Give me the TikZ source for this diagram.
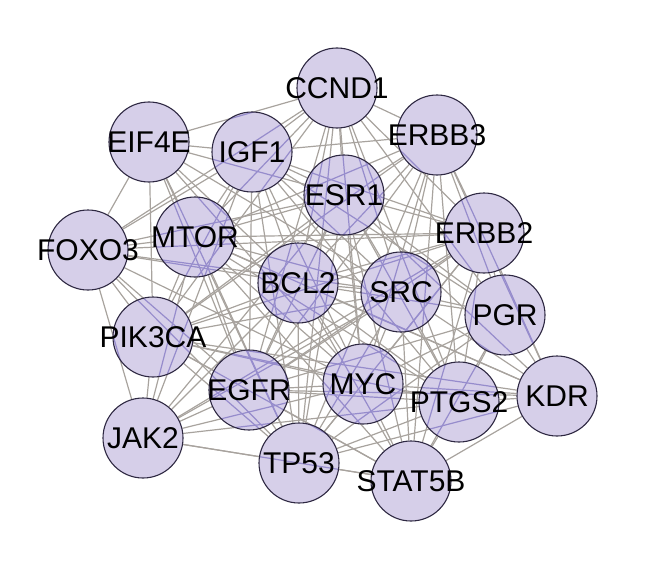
\documentclass[tikz,border=0pt]{standalone}
\usepackage{fontspec}
\setmainfont{Liberation Sans}
\pgfdeclarelayer{background}
\pgfdeclarelayer{mid}
\pgfsetlayers{background,mid,main}
\definecolor{nodefillc}{RGB}{214,207,233}
\definecolor{nodeborderc}{RGB}{46,40,66}
\definecolor{edgec}{RGB}{168,163,158}
\definecolor{inedgec}{RGB}{150,140,204}
\tikzset{
  gene/.style={circle, minimum size=80pt, inner sep=0pt, draw=nodeborderc, line width=1.1pt,
    font=\fontsize{30}{30}\selectfont, text=black},
  edge/.style={draw=edgec, line width=1.2pt},
  inedge/.style={draw=inedgec, line width=1.2pt},
}
\newcommand\myedges{TP53/EGFR, TP53/MYC, TP53/ESR1, TP53/SRC, TP53/BCL2, TP53/MTOR, TP53/PIK3CA, TP53/IGF1, TP53/CCND1, TP53/ERBB2, TP53/PTGS2,
EGFR/MYC, EGFR/ESR1, EGFR/SRC, EGFR/BCL2, EGFR/MTOR, EGFR/PIK3CA, EGFR/IGF1, EGFR/CCND1, EGFR/ERBB2, EGFR/PTGS2,
MYC/ESR1, MYC/SRC, MYC/BCL2, MYC/MTOR, MYC/PIK3CA, MYC/IGF1, MYC/CCND1, MYC/ERBB2, MYC/PTGS2,
ESR1/SRC, ESR1/BCL2, ESR1/MTOR, ESR1/PIK3CA, ESR1/IGF1, ESR1/CCND1, ESR1/ERBB2, ESR1/PTGS2,
SRC/BCL2, SRC/MTOR, SRC/PIK3CA, SRC/IGF1, SRC/CCND1, SRC/ERBB2, SRC/PTGS2,
BCL2/MTOR, BCL2/PIK3CA, BCL2/IGF1, BCL2/CCND1, BCL2/ERBB2, BCL2/PTGS2,
MTOR/PIK3CA, MTOR/IGF1, MTOR/CCND1, MTOR/ERBB2, MTOR/PTGS2,
PIK3CA/IGF1, PIK3CA/CCND1, PIK3CA/ERBB2, PIK3CA/PTGS2,
IGF1/CCND1, IGF1/ERBB2, IGF1/PTGS2,
CCND1/ERBB2, CCND1/PTGS2, ERBB2/PTGS2,
FOXO3/EIF4E, FOXO3/MTOR, FOXO3/IGF1, FOXO3/ESR1, FOXO3/CCND1, FOXO3/BCL2, FOXO3/SRC, FOXO3/PIK3CA, FOXO3/EGFR, FOXO3/MYC, FOXO3/TP53, FOXO3/JAK2, FOXO3/ERBB2,
JAK2/PIK3CA, JAK2/MTOR, JAK2/EGFR, JAK2/BCL2, JAK2/SRC, JAK2/ESR1, JAK2/MYC, JAK2/TP53, JAK2/STAT5B, JAK2/ERBB2, JAK2/IGF1, JAK2/PTGS2,
KDR/PTGS2, KDR/MYC, KDR/SRC, KDR/BCL2, KDR/EGFR, KDR/PGR, KDR/ERBB2, KDR/ERBB3, KDR/STAT5B, KDR/TP53, KDR/ESR1, KDR/PIK3CA, KDR/MTOR,
STAT5B/TP53, STAT5B/MYC, STAT5B/EGFR, STAT5B/SRC, STAT5B/BCL2, STAT5B/ESR1, STAT5B/PTGS2, STAT5B/ERBB2, STAT5B/PIK3CA, STAT5B/MTOR, STAT5B/PGR,
EIF4E/IGF1, EIF4E/CCND1, EIF4E/ESR1, EIF4E/MTOR, EIF4E/PIK3CA, EIF4E/MYC, EIF4E/BCL2, EIF4E/TP53, EIF4E/EGFR, EIF4E/SRC,
ERBB3/CCND1, ERBB3/ESR1, ERBB3/IGF1, ERBB3/BCL2, ERBB3/SRC, ERBB3/ERBB2, ERBB3/PGR, ERBB3/MYC, ERBB3/EGFR, ERBB3/PIK3CA, ERBB3/MTOR, ERBB3/PTGS2, ERBB3/TP53, ERBB3/STAT5B,
PGR/ESR1, PGR/ERBB2, PGR/SRC, PGR/BCL2, PGR/MYC, PGR/PTGS2, PGR/TP53, PGR/EGFR, PGR/CCND1, PGR/IGF1}
\newcommand\mygenes{CCND1,ERBB3,EIF4E,IGF1,ESR1,MTOR,FOXO3,ERBB2,BCL2,SRC,PGR,PIK3CA,EGFR,MYC,PTGS2,KDR,JAK2,TP53,STAT5B}
\begin{document}
\begin{tikzpicture}[x=1pt,y=-1pt]
\useasboundingbox (0,0) rectangle (660,567);
\foreach \n/\px/\py in {CCND1/337/88, ERBB3/437/135, EIF4E/149/142, IGF1/252/152, ESR1/344/195,
  MTOR/195/237, FOXO3/88/250, ERBB2/484/233, BCL2/298/283, SRC/401/292, PGR/505/315,
  PIK3CA/153/337, EGFR/249/390, MYC/363/384, PTGS2/459/402, KDR/557/396, JAK2/143/438,
  TP53/299/463, STAT5B/411/481}
  \node[gene] (\n) at (\px,\py) {\makebox[0pt][c]{\n}};
\begin{pgfonlayer}{background}
  \foreach \a/\b in \myedges { \draw[edge] (\a) -- (\b); }
\end{pgfonlayer}
\begin{pgfonlayer}{mid}
  \foreach \n in \mygenes {
    \fill[nodefillc] (\n.center) circle (40pt);
    \begin{scope}
      \clip (\n.center) circle (40pt);
      \foreach \a/\b in \myedges { \draw[inedge] (\a) -- (\b); }
    \end{scope}
  }
\end{pgfonlayer}
\end{tikzpicture}
\end{document}
